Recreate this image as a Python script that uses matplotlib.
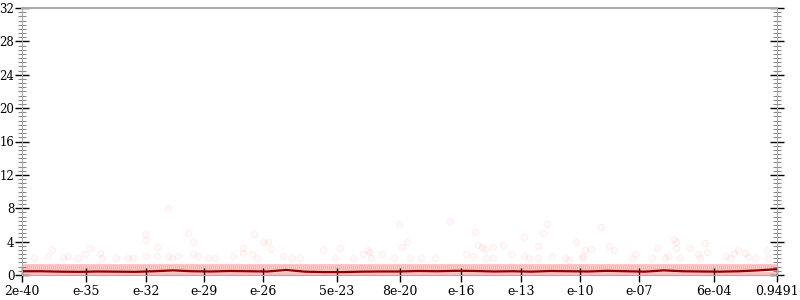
import numpy as np
import matplotlib.pyplot as plt
from matplotlib.ticker import MultipleLocator

# test index runs 0..755, tick labels placed at the tests they name
n_tests = 756
tick_pos = [0, 64, 124, 182, 241, 315, 378, 439, 499, 558, 617, 692, 755]
tick_labels = ['2e-40', 'e-35', 'e-32', 'e-29', 'e-26', '5e-23', '8e-20',
               'e-16', 'e-13', 'e-10', 'e-07', '6e-04', '0.9491']

# scattered outliers (test index, value)
out_x = [146, 123, 124, 166, 171, 232, 241, 246, 377, 380, 30, 68, 135, 221, 249,
         301, 318, 346, 348, 12, 26, 41, 46, 56, 63, 78, 80, 94, 106, 111, 124, 135,
         146, 150, 156, 171, 176, 186, 193, 211, 221, 230, 235, 261, 270, 278, 313,
         331, 341, 349, 360, 372,
         428, 453, 385, 525, 521, 502, 579, 554, 456, 460, 463, 471, 481, 516, 563,
         569, 587, 592, 652, 654, 654, 635, 668, 683, 685, 716, 745, 489, 444, 451,
         464, 471, 502, 507, 516, 530, 543, 547, 560, 561, 613, 610, 630, 643, 646,
         658, 676, 678, 704, 708, 712, 723, 726, 733, 746, 413, 399, 388]
out_y = [8.0, 4.9, 4.2, 5.0, 4.0, 4.95, 4.0, 3.9, 6.1, 3.3, 3.0, 3.2, 3.3, 3.2, 3.1,
         3.0, 3.2, 3.0, 2.7, 2.0, 2.3, 2.0, 2.3, 2.0, 2.5, 2.6, 2.0, 2.0, 2.0, 2.0, 2.3, 2.3,
         2.3, 2.0, 2.3, 2.5, 2.3, 2.0, 2.0, 2.3, 2.6, 2.5, 2.0, 2.3, 2.0, 2.0, 2.0,
         2.0, 2.5, 2.0, 2.5, 2.0,
         6.5, 5.2, 4.0, 6.1, 5.0, 4.5, 5.7, 4.0, 3.6, 3.3, 3.1, 3.3, 3.6, 3.5, 3.0,
         3.1, 3.5, 3.0, 4.3, 3.9, 3.2, 3.2, 3.2, 3.8, 2.8, 3.0, 3.0, 2.5, 2.5, 2.3,
         2.0, 2.0, 2.3, 2.0, 2.0, 2.3, 2.0, 1.8, 2.0, 2.3, 2.5, 2.0, 2.0, 2.0, 2.3,
         2.0, 2.5, 2.0, 2.3, 2.0, 2.6, 2.6, 2.2, 2.0, 2.0, 2.0, 2.0, 2.0]

# most tests score 1 or 0
band_hi = 1.0
band_lo = 0.0

# average line
avg_y = [0.45, 0.45, 0.40, 0.38, 0.42, 0.40, 0.38, 0.45, 0.55, 0.45, 0.42, 0.48, 0.45,
         0.42, 0.60, 0.40, 0.35, 0.35, 0.40, 0.42, 0.42, 0.48, 0.45, 0.50, 0.48, 0.42,
         0.45, 0.40, 0.48, 0.45, 0.42, 0.50, 0.45, 0.40, 0.55, 0.45, 0.42, 0.40, 0.45,
         0.55, 0.70]

tests = np.arange(0, n_tests, 2)
avg_x = np.linspace(0, n_tests - 1, len(avg_y))

fig = plt.figure(figsize=(8, 3), dpi=100)
ax = fig.add_axes([22 / 800, 25 / 300, 755 / 800, 267 / 300])

faint = dict(s=20, facecolors=(1, 0, 0, 0.025), edgecolors=(1, 0, 0, 0.06), linewidths=0.8)
band = dict(s=20, facecolors=(1, 0, 0, 0.06), edgecolors=(1, 0, 0, 0.09), linewidths=0.8)
ax.scatter(out_x, out_y, **faint)
ax.scatter(tests, np.full(len(tests), band_hi), **band)
ax.scatter(tests, np.full(len(tests), band_lo), **band)
ax.plot(avg_x, avg_y, color='#8b0000', lw=1.6)

ax.set_xlim(0, n_tests - 1)
ax.set_ylim(0, 32)
ax.set_xticks(tick_pos)
ax.set_xticklabels(tick_labels)
ax.yaxis.set_major_locator(MultipleLocator(4))
ax.yaxis.set_minor_locator(MultipleLocator(0.5))

for s in ['left', 'right', 'bottom']:
    ax.spines[s].set_color('#aaaaaa')
    ax.spines[s].set_linewidth(0.8)
ax.spines['top'].set_color('#aaaaaa')
ax.spines['top'].set_linewidth(1.5)

ax.tick_params(axis='y', which='major', direction='inout', length=10, width=1,
               color='black', left=True, right=True, pad=0.5, labelsize=8.5)
ax.tick_params(axis='y', which='minor', direction='inout', length=6, width=0.8,
               color='#888888', left=True, right=True)
ax.tick_params(axis='x', which='major', direction='inout', length=10, width=1,
               color='black', pad=2, labelsize=9)
for lab in ax.get_xticklabels() + ax.get_yticklabels():
    lab.set_family('DejaVu Serif')

plt.savefig('out.png', dpi=100)
